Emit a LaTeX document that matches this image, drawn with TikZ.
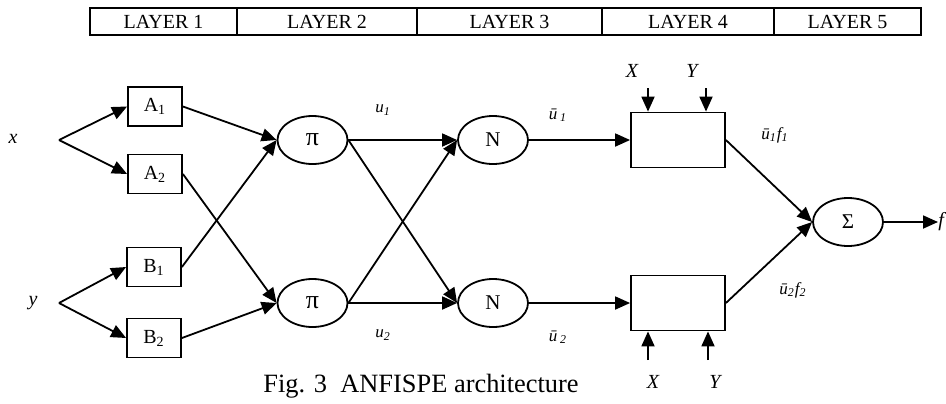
\documentclass[tikz,border=0pt]{standalone}
\usepackage{fontspec}
\setmainfont{Liberation Serif}
\usetikzlibrary{positioning,shapes.geometric,arrows.meta}
\tikzset{
  layer/.style={draw,line width=0.7pt,minimum height=13.5pt,inner sep=0pt,outer sep=0pt,font=\fontsize{10}{11}\selectfont},
  mf/.style={draw,line width=0.9pt,minimum width=27pt,minimum height=19.5pt,inner sep=0pt,font=\fontsize{10}{11}\selectfont},
  rulebox/.style={draw,line width=0.9pt,minimum width=47pt,minimum height=27.5pt,inner sep=0pt},
  oval/.style={draw,ellipse,line width=0.9pt,minimum width=35pt,minimum height=24pt,inner sep=0pt,font=\fontsize{10.5}{12}\selectfont},
  wire/.style={line width=0.9pt,-{Triangle[length=7.5pt,width=6.5pt]}},
  var/.style={font=\fontsize{10}{11}\selectfont\itshape},
  sig/.style={font=\fontsize{8.5}{9}\selectfont\itshape}
}
\begin{document}
\begin{tikzpicture}[x=0.5pt,y=-0.5pt]
    \useasboundingbox (0,0) rectangle (946,403);
    \node[layer,minimum width=73.5pt] (L1) at (163.5,21.5) {LAYER 1};
    \node[layer,minimum width=90pt,right=0pt of L1] (L2) {LAYER 2};
    \node[layer,minimum width=92.5pt,right=0pt of L2] (L3) {LAYER 3};
    \node[layer,minimum width=86pt,right=0pt of L3] (L4) {LAYER 4};
    \node[layer,minimum width=73.5pt,right=0pt of L4] (L5) {LAYER 5};

    \node[var] (xin) at (13,139) {x};
    \node[var] (yin) at (33,303) {y};
    \coordinate (xs) at (59,140);
    \coordinate (ys) at (59,303);

    \node[mf] (A1) at (155,106.5) {A\textsubscript{1}};
    \node[mf] (A2) at (155,174) {A\textsubscript{2}};
    \node[mf] (B1) at (154,267) {B\textsubscript{1}};
    \node[mf] (B2) at (154,338) {B\textsubscript{2}};
    \node[oval,font=\fontsize{13}{14}\selectfont] (P1) at (312.5,140) {π};
    \node[oval,font=\fontsize{13}{14}\selectfont] (P2) at (312.5,303) {π};
    \node[oval] (N1) at (493,140) {N};
    \node[oval] (N2) at (493,303) {N};
    \node[rulebox] (R1) at (678,140) {};
    \node[rulebox] (R2) at (678,303) {};
    \node[oval] (S) at (848,222) {Σ};
    \node[var,anchor=west,inner sep=0pt] (f) at (938,222) {f};

    \draw[wire] (xs) -- (A1.west);
    \draw[wire] (xs) -- (A2.west);
    \draw[wire] (ys) -- (B1.west);
    \draw[wire] (ys) -- (B2.west);
    \foreach \a/\b in {A1/P1,B1/P1,A2/P2,B2/P2,P1/N1,P1/N2,P2/N1,P2/N2,N1/R1,N2/R2,R1/S,R2/S}
        \draw[wire] (\a.east) -- (\b.west);
    \draw[wire] (S.east) -- (f.west);

    \node[var] (X1t) at (632,71) {X};
    \node[var] (Y1t) at (692,71) {Y};
    \coordinate (X1) at (648,88);
    \coordinate (Y1) at (706,88);
    \draw[wire] (X1) -- (X1 |- R1.north);
    \draw[wire] (Y1) -- (Y1 |- R1.north);
    \node[var] (X2t) at (653,382) {X};
    \node[var] (Y2t) at (715,382) {Y};
    \coordinate (X2) at (648,360);
    \coordinate (Y2) at (708,360);
    \draw[wire] (X2) -- (X2 |- R2.south);
    \draw[wire] (Y2) -- (Y2 |- R2.south);

    \node[sig] (u1) at (383,110) {u\textsubscript{1}};
    \node[sig] (u2) at (383,335) {u\textsubscript{2}};
    \node[sig] (v1) at (558,115) {\=u\,\textsubscript{1}};
    \node[sig] (v2) at (558,337) {\=u\,\textsubscript{2}};
    \node[sig] (g1) at (775,135) {\=u\textsubscript{1}f\textsubscript{1}};
    \node[sig] (g2) at (793,290) {\=u\textsubscript{2}f\textsubscript{2}};

    \node[font=\fontsize{13.2}{15}\selectfont] (cap) at (421,386) {Fig. 3\ \ ANFISPE architecture};
\end{tikzpicture}
\end{document}
